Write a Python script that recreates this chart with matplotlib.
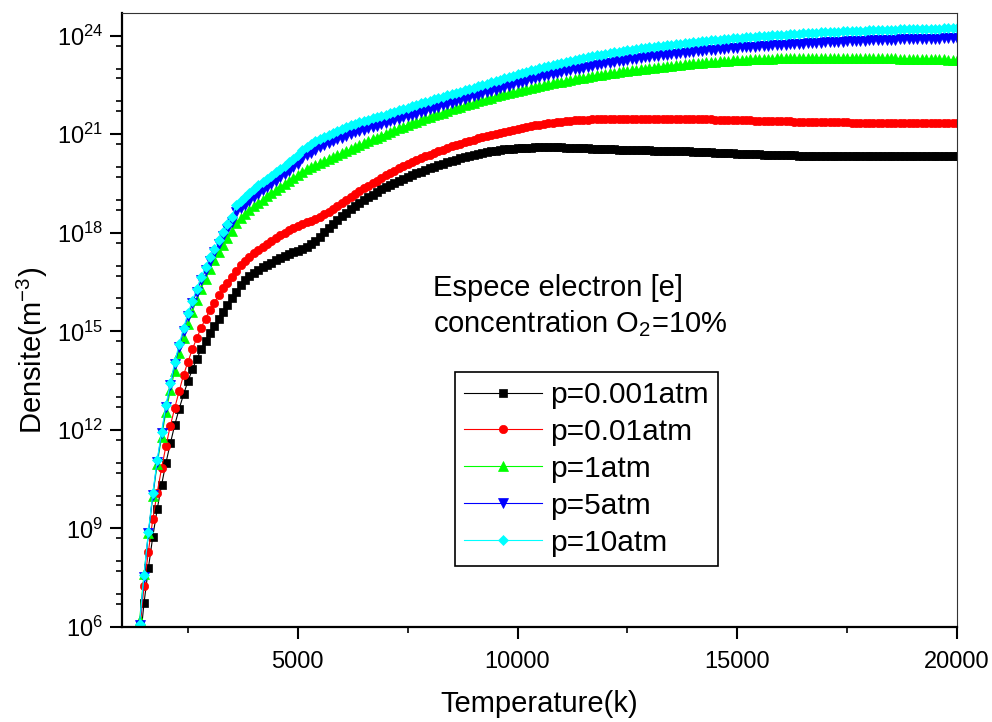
import numpy as np
import matplotlib
matplotlib.use('Agg')
import matplotlib.pyplot as plt
from matplotlib.ticker import FixedLocator, NullFormatter

plt.rcParams['font.family'] = ['Liberation Sans', 'DejaVu Sans']
plt.rcParams['mathtext.fontset'] = 'custom'
plt.rcParams['mathtext.rm'] = 'Liberation Sans'
plt.rcParams['mathtext.default'] = 'regular'

# temperature grid (K), one point every 100 K
temperature = np.arange(1400, 20001, 100)

# log10 of the electron density (m^-3), ten values per row (1400-2300, 2400-3300, ...)
log_p0001 = [
    5.4, 6.72, 7.79, 8.75, 9.58, 10.32, 11.0, 11.59, 12.15, 12.64,
    13.08, 13.48, 13.84, 14.16, 14.45, 14.7, 14.94, 15.17, 15.39, 15.6,
    15.8, 16.0, 16.2, 16.4, 16.55, 16.68, 16.78, 16.87, 16.95, 17.02,
    17.09, 17.16, 17.23, 17.29, 17.35, 17.41, 17.46, 17.52, 17.58, 17.66,
    17.76, 17.88, 18.01, 18.14, 18.27, 18.39, 18.5, 18.61, 18.72, 18.82,
    18.91, 19.0, 19.08, 19.16, 19.24, 19.32, 19.39, 19.46, 19.52, 19.58,
    19.64, 19.7, 19.76, 19.81, 19.86, 19.91, 19.96, 20.01, 20.06, 20.1,
    20.14, 20.19, 20.23, 20.27, 20.31, 20.34, 20.37, 20.4, 20.43, 20.46,
    20.48, 20.5, 20.52, 20.54, 20.55, 20.56, 20.57, 20.58, 20.59, 20.59,
    20.6, 20.6, 20.6, 20.6, 20.6, 20.6, 20.6, 20.59, 20.59, 20.58,
    20.58, 20.57, 20.57, 20.56, 20.56, 20.55, 20.55, 20.54, 20.54, 20.53,
    20.53, 20.52, 20.52, 20.52, 20.51, 20.51, 20.51, 20.5, 20.5, 20.5,
    20.5, 20.49, 20.49, 20.49, 20.48, 20.48, 20.47, 20.46, 20.46, 20.45,
    20.45, 20.44, 20.43, 20.43, 20.42, 20.42, 20.41, 20.41, 20.4, 20.4,
    20.39, 20.39, 20.38, 20.38, 20.37, 20.37, 20.37, 20.36, 20.36, 20.36,
    20.35, 20.35, 20.35, 20.35, 20.34, 20.34, 20.34, 20.34, 20.34, 20.34,
    20.34, 20.34, 20.34, 20.34, 20.34, 20.34, 20.34, 20.34, 20.35, 20.35,
    20.35, 20.35, 20.35, 20.35, 20.35, 20.35, 20.35, 20.35, 20.35, 20.35,
    20.35, 20.35, 20.35, 20.35, 20.35, 20.35, 20.35,
]
log_p001 = [
    5.8, 7.25, 8.29, 9.28, 10.09, 10.83, 11.51, 12.13, 12.67, 13.18,
    13.67, 14.07, 14.45, 14.79, 15.11, 15.39, 15.65, 15.87, 16.1, 16.31,
    16.48, 16.66, 16.85, 17.02, 17.14, 17.26, 17.37, 17.47, 17.56, 17.65,
    17.74, 17.83, 17.92, 18.0, 18.08, 18.15, 18.21, 18.27, 18.32, 18.37,
    18.43, 18.49, 18.56, 18.64, 18.73, 18.82, 18.91, 19.0, 19.09, 19.18,
    19.27, 19.35, 19.43, 19.51, 19.59, 19.67, 19.75, 19.82, 19.89, 19.96,
    20.03, 20.09, 20.15, 20.21, 20.27, 20.33, 20.38, 20.43, 20.48, 20.53,
    20.58, 20.63, 20.67, 20.71, 20.75, 20.79, 20.83, 20.87, 20.91, 20.95,
    20.98, 21.02, 21.05, 21.08, 21.11, 21.14, 21.17, 21.2, 21.22, 21.25,
    21.27, 21.29, 21.31, 21.33, 21.35, 21.37, 21.38, 21.39, 21.41, 21.42,
    21.43, 21.44, 21.44, 21.45, 21.45, 21.46, 21.46, 21.46, 21.47, 21.47,
    21.47, 21.47, 21.47, 21.47, 21.47, 21.47, 21.47, 21.47, 21.47, 21.47,
    21.47, 21.46, 21.46, 21.46, 21.46, 21.46, 21.46, 21.45, 21.45, 21.45,
    21.45, 21.44, 21.44, 21.44, 21.43, 21.43, 21.43, 21.42, 21.42, 21.42,
    21.41, 21.41, 21.41, 21.4, 21.4, 21.4, 21.39, 21.39, 21.39, 21.38,
    21.38, 21.38, 21.38, 21.37, 21.37, 21.37, 21.37, 21.36, 21.36, 21.36,
    21.36, 21.36, 21.35, 21.35, 21.35, 21.35, 21.35, 21.35, 21.34, 21.34,
    21.34, 21.34, 21.34, 21.34, 21.34, 21.34, 21.34, 21.34, 21.34, 21.34,
    21.34, 21.34, 21.34, 21.34, 21.34, 21.34, 21.34,
]
log_p1 = [
    6.2, 7.6, 8.85, 9.98, 10.95, 11.78, 12.55, 13.2, 13.8, 14.33,
    14.8, 15.22, 15.6, 15.96, 16.3, 16.6, 16.9, 17.17, 17.41, 17.64,
    17.85, 18.05, 18.3, 18.45, 18.58, 18.7, 18.8, 18.91, 19.01, 19.11,
    19.21, 19.3, 19.4, 19.49, 19.58, 19.67, 19.76, 19.86, 19.93, 20.0,
    20.06, 20.12, 20.18, 20.24, 20.3, 20.36, 20.42, 20.48, 20.54, 20.6,
    20.66, 20.72, 20.78, 20.84, 20.9, 20.96, 21.02, 21.07, 21.12, 21.18,
    21.23, 21.28, 21.33, 21.38, 21.43, 21.48, 21.52, 21.57, 21.62, 21.66,
    21.71, 21.76, 21.8, 21.84, 21.88, 21.92, 21.96, 22.0, 22.04, 22.08,
    22.11, 22.15, 22.18, 22.22, 22.25, 22.28, 22.31, 22.35, 22.38, 22.41,
    22.44, 22.47, 22.5, 22.52, 22.55, 22.58, 22.6, 22.63, 22.65, 22.68,
    22.7, 22.72, 22.75, 22.77, 22.79, 22.81, 22.83, 22.85, 22.87, 22.89,
    22.91, 22.93, 22.95, 22.97, 22.98, 23.0, 23.02, 23.03, 23.05, 23.06,
    23.08, 23.09, 23.11, 23.12, 23.13, 23.14, 23.16, 23.17, 23.18, 23.19,
    23.2, 23.21, 23.22, 23.23, 23.24, 23.25, 23.26, 23.26, 23.27, 23.28,
    23.28, 23.29, 23.29, 23.3, 23.3, 23.31, 23.31, 23.31, 23.32, 23.32,
    23.32, 23.32, 23.33, 23.33, 23.33, 23.33, 23.33, 23.33, 23.33, 23.33,
    23.33, 23.33, 23.33, 23.33, 23.32, 23.32, 23.32, 23.32, 23.32, 23.31,
    23.31, 23.31, 23.31, 23.3, 23.3, 23.3, 23.3, 23.29, 23.29, 23.29,
    23.29, 23.28, 23.28, 23.28, 23.27, 23.27, 23.27,
]
log_p5 = [
    6.05, 7.52, 8.85, 10.02, 11.03, 11.89, 12.7, 13.36, 14.0, 14.53,
    15.02, 15.47, 15.85, 16.21, 16.56, 16.86, 17.14, 17.4, 17.65, 17.89,
    18.11, 18.33, 18.62, 18.74, 18.85, 18.97, 19.08, 19.19, 19.29, 19.39,
    19.49, 19.59, 19.69, 19.79, 19.89, 19.99, 20.1, 20.27, 20.36, 20.44,
    20.52, 20.6, 20.66, 20.72, 20.78, 20.84, 20.9, 20.96, 21.01, 21.06,
    21.1, 21.14, 21.18, 21.22, 21.26, 21.3, 21.34, 21.39, 21.43, 21.47,
    21.51, 21.55, 21.59, 21.63, 21.68, 21.72, 21.76, 21.8, 21.84, 21.88,
    21.92, 21.96, 22.0, 22.04, 22.08, 22.12, 22.16, 22.2, 22.24, 22.28,
    22.32, 22.36, 22.4, 22.44, 22.48, 22.52, 22.55, 22.59, 22.63, 22.67,
    22.7, 22.74, 22.77, 22.8, 22.83, 22.86, 22.89, 22.92, 22.95, 22.98,
    23.0, 23.03, 23.06, 23.08, 23.11, 23.13, 23.16, 23.18, 23.2, 23.22,
    23.24, 23.26, 23.28, 23.3, 23.32, 23.34, 23.36, 23.38, 23.39, 23.41,
    23.42, 23.44, 23.45, 23.47, 23.48, 23.5, 23.51, 23.52, 23.54, 23.55,
    23.56, 23.57, 23.59, 23.6, 23.61, 23.62, 23.63, 23.64, 23.65, 23.66,
    23.67, 23.68, 23.69, 23.7, 23.71, 23.72, 23.73, 23.73, 23.74, 23.75,
    23.76, 23.76, 23.77, 23.78, 23.79, 23.79, 23.8, 23.81, 23.81, 23.82,
    23.82, 23.83, 23.84, 23.84, 23.85, 23.85, 23.86, 23.86, 23.87, 23.87,
    23.88, 23.88, 23.88, 23.89, 23.89, 23.89, 23.9, 23.9, 23.9, 23.91,
    23.91, 23.91, 23.91, 23.92, 23.92, 23.92, 23.92,
]
log_p10 = [
    6.1, 7.58, 8.9, 10.07, 11.08, 11.94, 12.76, 13.42, 14.07, 14.6,
    15.1, 15.55, 15.93, 16.3, 16.66, 16.96, 17.25, 17.52, 17.78, 18.03,
    18.26, 18.49, 18.85, 18.98, 19.1, 19.22, 19.33, 19.44, 19.54, 19.64,
    19.74, 19.84, 19.94, 20.04, 20.14, 20.24, 20.36, 20.53, 20.62, 20.7,
    20.78, 20.86, 20.92, 20.98, 21.04, 21.1, 21.16, 21.22, 21.27, 21.32,
    21.36, 21.4, 21.44, 21.48, 21.52, 21.56, 21.6, 21.65, 21.69, 21.73,
    21.77, 21.81, 21.85, 21.89, 21.94, 21.98, 22.02, 22.06, 22.1, 22.14,
    22.18, 22.22, 22.26, 22.3, 22.34, 22.38, 22.42, 22.46, 22.5, 22.54,
    22.58, 22.62, 22.66, 22.7, 22.74, 22.78, 22.82, 22.86, 22.9, 22.94,
    22.97, 23.01, 23.04, 23.08, 23.11, 23.14, 23.17, 23.2, 23.23, 23.26,
    23.29, 23.32, 23.35, 23.37, 23.4, 23.42, 23.45, 23.47, 23.49, 23.51,
    23.53, 23.55, 23.57, 23.59, 23.61, 23.63, 23.65, 23.67, 23.69, 23.7,
    23.72, 23.73, 23.75, 23.76, 23.78, 23.79, 23.81, 23.82, 23.83, 23.85,
    23.86, 23.87, 23.88, 23.9, 23.91, 23.92, 23.93, 23.94, 23.95, 23.96,
    23.97, 23.98, 23.99, 24.0, 24.01, 24.02, 24.03, 24.03, 24.04, 24.05,
    24.06, 24.07, 24.07, 24.08, 24.09, 24.1, 24.1, 24.11, 24.11, 24.12,
    24.13, 24.13, 24.14, 24.14, 24.15, 24.15, 24.16, 24.16, 24.17, 24.17,
    24.18, 24.18, 24.18, 24.19, 24.19, 24.19, 24.2, 24.2, 24.2, 24.21,
    24.21, 24.21, 24.21, 24.22, 24.22, 24.22, 24.22,
]

series = [log_p0001, log_p001, log_p1, log_p5, log_p10]
labels = ['p=0.001atm', 'p=0.01atm', 'p=1atm', 'p=5atm', 'p=10atm']
colors = ['#000000', '#ff0000', '#00ff00', '#0000ff', '#00ffff']
markers = ['s', 'o', '^', 'v', 'D']
msizes = [5.2, 6.0, 6.5, 6.5, 5.2]

fig = plt.figure(figsize=(9.92, 7.22), dpi=100)
ax = fig.add_axes([0.123, 0.1316, 0.8417, 0.8504])

for logs, lab, c, m, s in zip(series, labels, colors, markers, msizes):
    ax.plot(temperature, 10.0 ** np.array(logs), color=c, lw=0.8,
            marker=m, ms=s, mfc=c, mec=c, mew=0.5, label=lab)

ax.set_yscale('log')
ax.set_xlim(1000, 20000)
ax.set_ylim(1e6, 4.9e24)

ax.set_xticks([5000, 10000, 15000, 20000])
ax.xaxis.set_minor_locator(FixedLocator([2500, 7500, 12500, 17500]))
ax.set_yticks([10.0 ** k for k in range(6, 25, 3)])
minor_y = [m * 10.0 ** k for k in range(6, 25) for m in (1, 5) if not (m == 1 and k % 3 == 0)]
ax.yaxis.set_minor_locator(FixedLocator(minor_y))
ax.yaxis.set_minor_formatter(NullFormatter())

ax.tick_params(which='major', direction='out', length=8.5, width=1.5, labelsize=17)
ax.tick_params(which='minor', direction='out', length=4.5, width=1.2)
ax.tick_params(axis='x', which='major', pad=9)
ax.tick_params(axis='y', which='major', pad=5)
ax.tick_params(top=False, right=False, which='both')

for side in ['left', 'bottom']:
    ax.spines[side].set_linewidth(1.6)
for side in ['top', 'right']:
    ax.spines[side].set_linewidth(0.8)
    ax.spines[side].set_color('#333333')

ax.set_xlabel('Temperature(k)', fontsize=21, labelpad=12)
ax.set_ylabel('Densite(m$^{-3}$)', fontsize=21)
ax.yaxis.set_label_coords(-0.086, 0.45)

fig.text(433 / 992, 1 - 296 / 722, 'Espece electron [e]', fontsize=21, va='baseline')
fig.text(433 / 992, 1 - 332 / 722, 'concentration O$_2$=10%', fontsize=21, va='baseline')

leg = ax.legend(loc='upper left', bbox_to_anchor=(455 / 992, 1 - 372 / 722),
                bbox_transform=fig.transFigure, fontsize=21.5, fancybox=False,
                edgecolor='black', framealpha=1, borderpad=0.3, labelspacing=0.3,
                handlelength=2.6, handletextpad=0.3, borderaxespad=0)
leg.get_frame().set_linewidth(1.2)

fig.savefig('out.png', dpi=100)
